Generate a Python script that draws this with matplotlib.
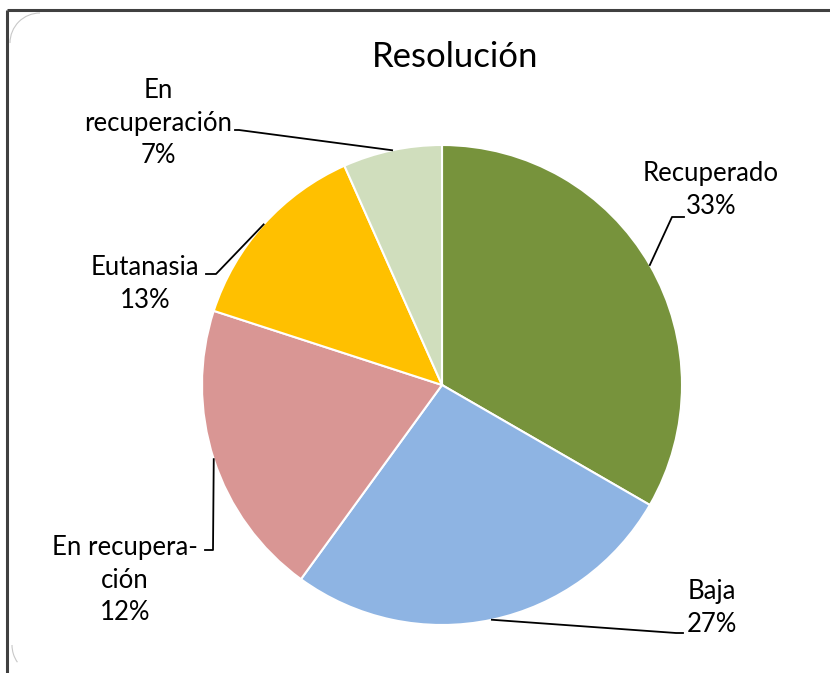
import numpy as np
import matplotlib
matplotlib.use("Agg")
import matplotlib.pyplot as plt
from matplotlib.patches import Arc

plt.rcParams['font.family'] = ['Lato', 'DejaVu Sans']

title = "Resolución"
categories = ["Recuperado", "Baja", "En recupera-\nción", "Eutanasia", "En\nrecuperación"]
counts = [5, 4, 3, 2, 1]
pct_labels = ["33%", "27%", "12%", "13%", "7%"]
colors = ["#77933C", "#8EB4E3", "#D99694", "#FFC000", "#D0DEBD"]

W, H = 830, 673
fig = plt.figure(figsize=(W / 100, H / 100), dpi=100)
ax = fig.add_axes([0, 0, 1, 1])

cx, cy, r = 442, H - 385, 240
wedges, _ = ax.pie(counts, colors=colors, startangle=90, counterclock=False,
                   center=(cx, cy), radius=r, frame=True,
                   wedgeprops=dict(edgecolor="white", linewidth=1.5))
ax.set_xlim(0, W)
ax.set_ylim(0, H)
ax.set_aspect('equal')
ax.axis('off')

# frame
ax.plot([7, W], [H - 10, H - 10], color="#404040", lw=2.2, solid_capstyle='butt')
ax.plot([7, 7], [0, H - 10], color="#404040", lw=2.2, solid_capstyle='butt')
for (acx, acy), t1, t2 in [((40, H - 43), 90, 180), ((42, 28), 180, 215), ((852, H - 43), 90, 125)]:
    ax.add_patch(Arc((acx, acy), 60, 60, theta1=t1, theta2=t2, color="#C8C8C8", lw=0.8))

ax.text(455, H - 57, title, ha='center', va='center', fontsize=25)

fs = 18.5
layouts = [
    dict(tx=711, ty=H - 190, elbow=(672, H - 217), end=(684, H - 217)),
    dict(tx=712, ty=H - 608, elbow=(676, H - 633), end=(683, H - 633)),
    dict(tx=125, ty=H - 580, elbow=(213, H - 550), end=(205, H - 550)),
    dict(tx=145, ty=H - 284, elbow=(216, H - 274), end=(206, H - 274)),
    dict(tx=158, ty=H - 123, elbow=(239, H - 130), end=(235, H - 130)),
]
for w, cat, pct, lay in zip(wedges, categories, pct_labels, layouts):
    ang = np.deg2rad((w.theta1 + w.theta2) / 2)
    px, py = cx + r * np.cos(ang), cy + r * np.sin(ang)
    ex, ey = lay['elbow']
    fx, fy = lay['end']
    ax.plot([px, ex, fx], [py, ey, fy], color="black", lw=1.3)
    ax.text(lay['tx'], lay['ty'], cat + "\n" + pct, ha='center', va='center',
            fontsize=fs, linespacing=1.38, multialignment='center')

fig.savefig("out.png", dpi=100)
